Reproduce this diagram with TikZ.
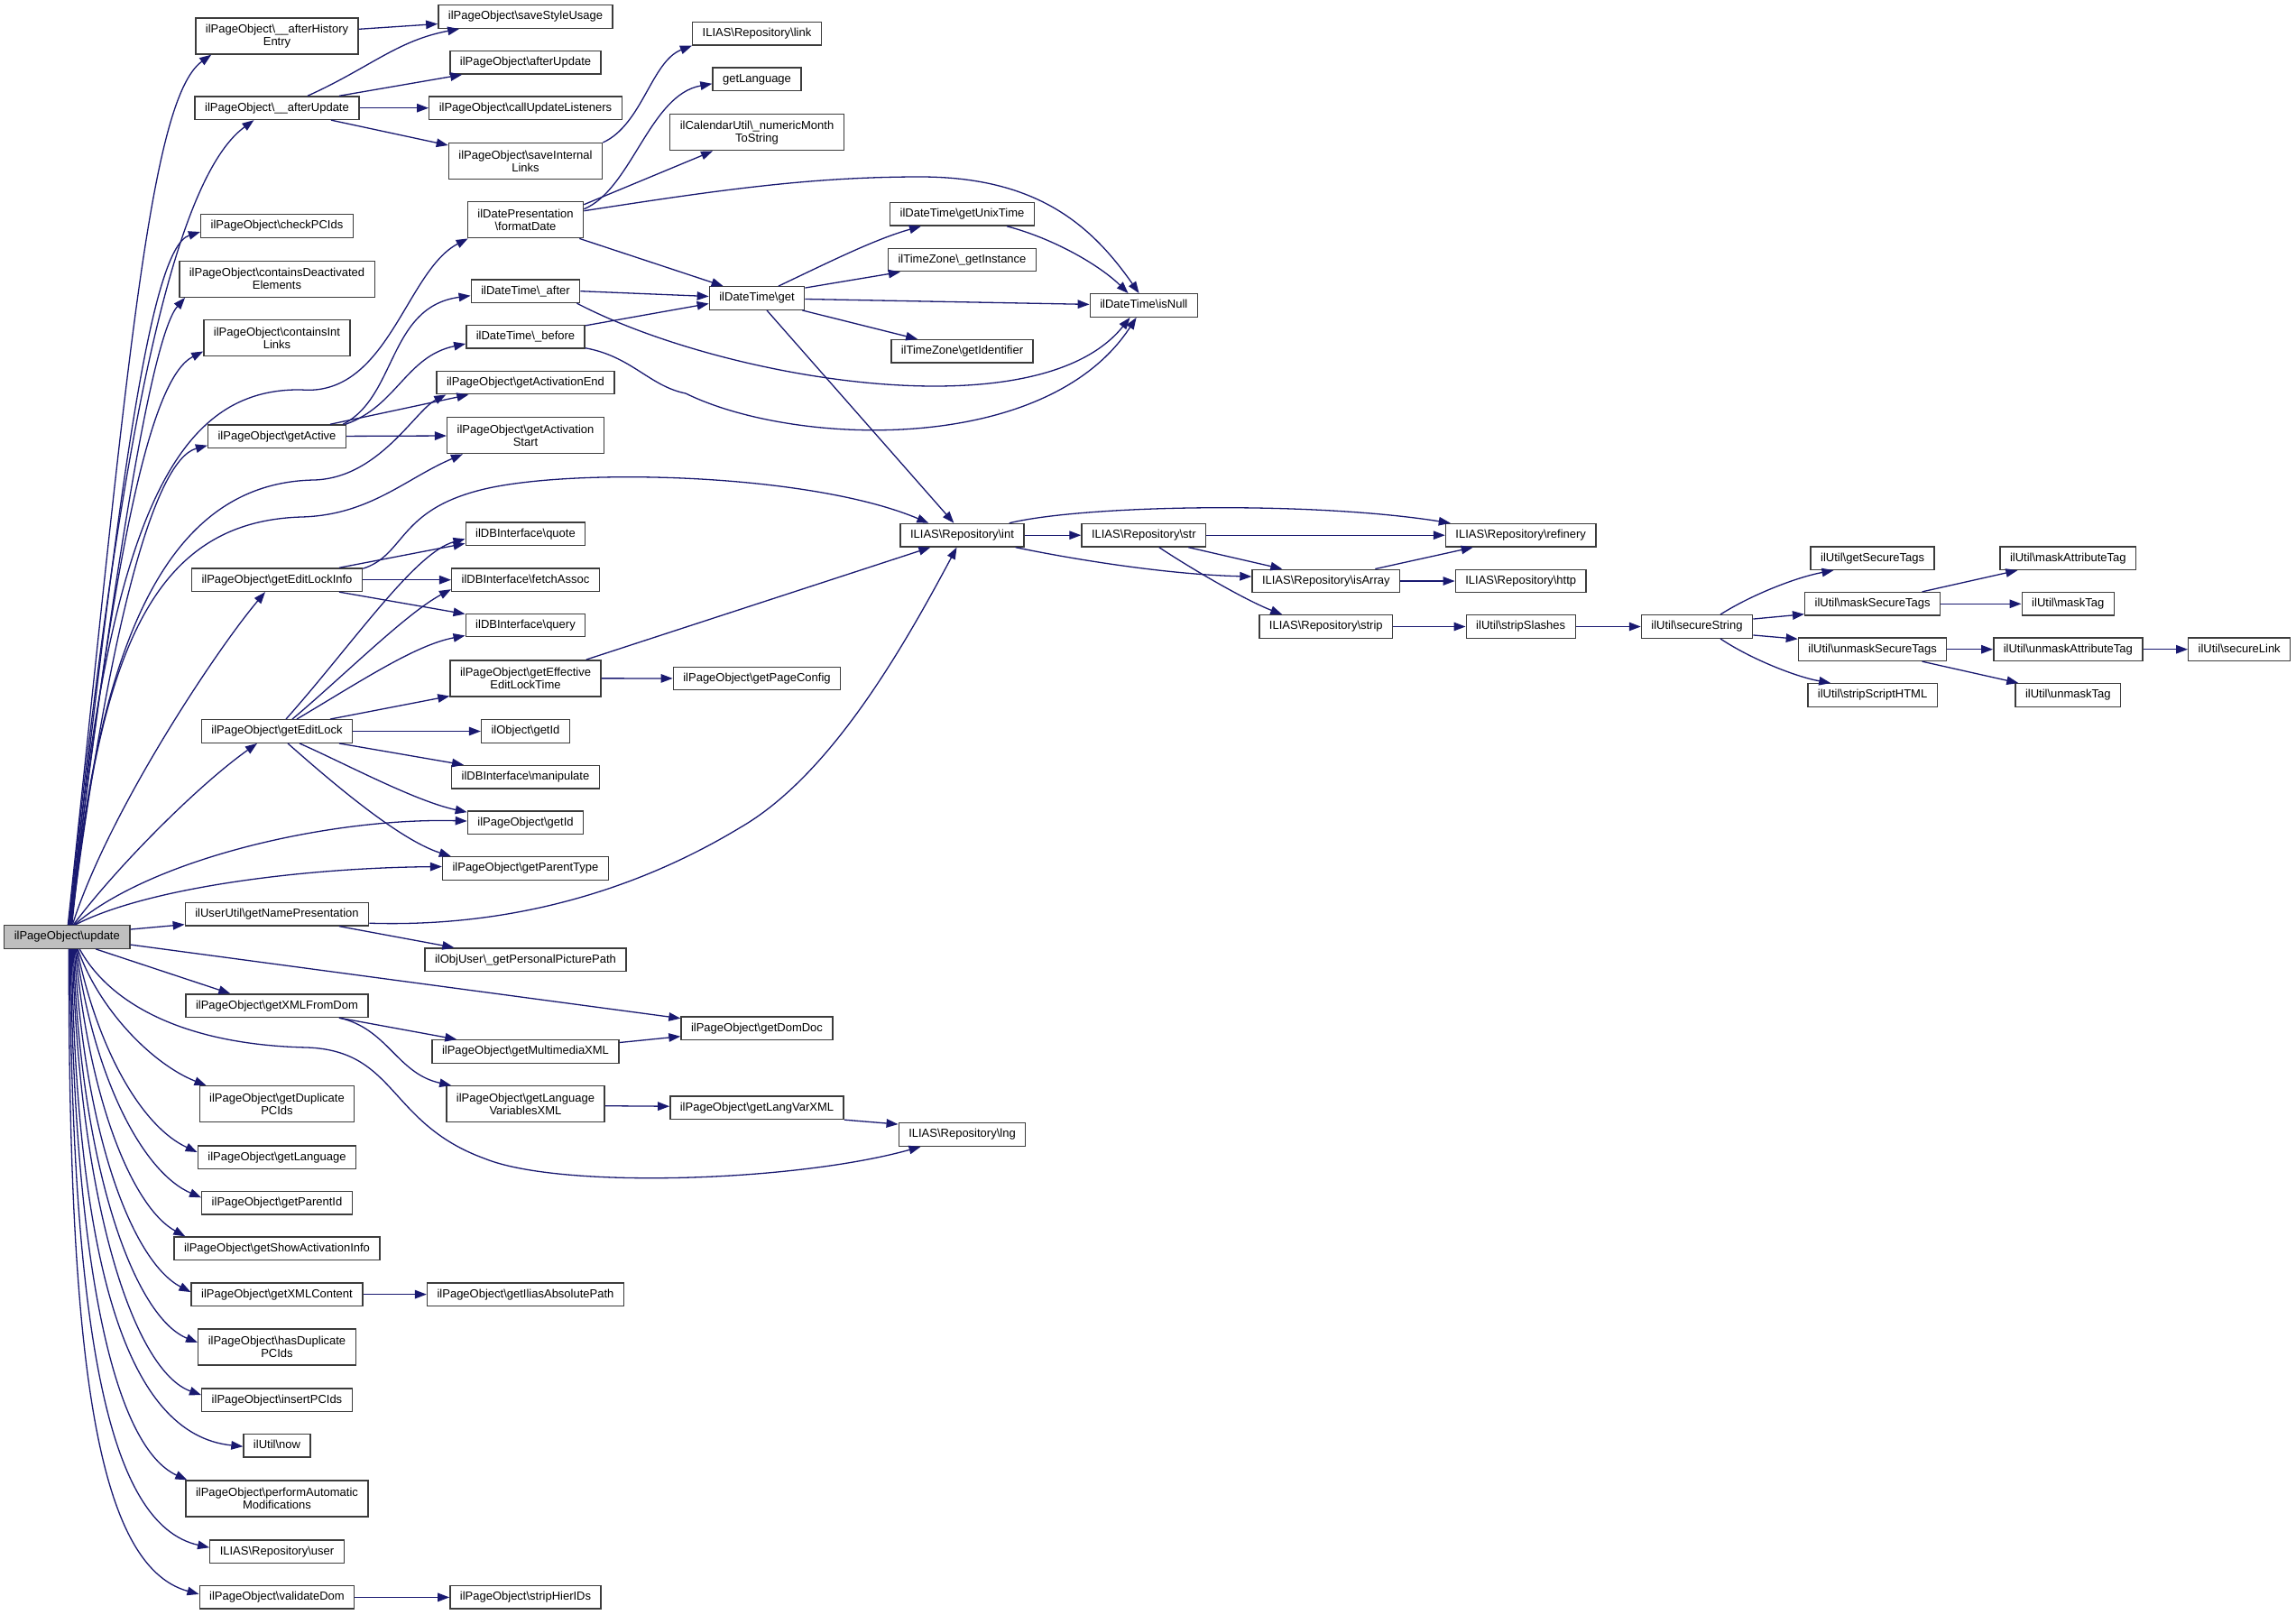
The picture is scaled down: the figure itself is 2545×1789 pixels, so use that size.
\documentclass[tikz,border=0pt]{standalone}
\usepackage{fontspec}
\setmainfont{Liberation Sans}
\usetikzlibrary{arrows.meta}
\definecolor{callblue}{RGB}{25,25,112}
\definecolor{rootgray}{RGB}{191,191,191}
\definecolor{boxline}{RGB}{60,60,60}
\newcommand{\bsl}{\textbackslash}

\begin{document}
\begin{tikzpicture}[x=1pt, y=-1pt,
  box/.style={draw=boxline, fill=white, line width=1.4pt,
    font=\fontsize{13}{14}\selectfont, inner xsep=11pt, inner ysep=0pt},
  fn/.style={box, minimum height=25.5pt, text height=9.6pt, text depth=2.8pt},
  fntwo/.style={box, align=center, minimum height=40pt},
  rootfn/.style={fn, fill=rootgray},
  call/.style={-{Triangle[length=13pt, width=9.5pt]}, draw=callblue, line width=1.3pt}
]
  \useasboundingbox (0,0) rectangle (2545,1789);

  % the function whose calls are shown
  \node[rootfn] (update) at (74.3,1038.5) {ilPageObject\bsl update};

  % direct callees
  \node[fntwo] (privHist) at (307,40) {ilPageObject\bsl\_\_afterHistory\\Entry};
  \node[fn] (privUpd) at (307,119.7) {ilPageObject\bsl\_\_afterUpdate};
  \node[fn] (checkIds) at (307,250.5) {ilPageObject\bsl checkPCIds};
  \node[fntwo] (deact) at (307,309.2) {ilPageObject\bsl containsDeactivated\\Elements};
  \node[fntwo] (cInt) at (307,374.5) {ilPageObject\bsl containsInt\\Links};
  \node[fn] (active) at (307,483.7) {ilPageObject\bsl getActive};
  \node[fn] (lockInfo) at (307,642.7) {ilPageObject\bsl getEditLockInfo};
  \node[fn] (editLock) at (307,810.5) {ilPageObject\bsl getEditLock};
  \node[fn] (namePres) at (307,1013.2) {ilUserUtil\bsl getNamePresentation};
  \node[fn] (xmlDom) at (307,1114.7) {ilPageObject\bsl getXMLFromDom};
  \node[fntwo] (dupIds) at (307,1223.7) {ilPageObject\bsl getDuplicate\\PCIds};
  \node[fn] (pageLang) at (307,1282.6) {ilPageObject\bsl getLanguage};
  \node[fn] (parentId) at (307,1333.3) {ilPageObject\bsl getParentId};
  \node[fn] (showAct) at (307,1383.8) {ilPageObject\bsl getShowActivationInfo};
  \node[fn] (xmlCont) at (307,1434.6) {ilPageObject\bsl getXMLContent};
  \node[fntwo] (hasDup) at (307,1493) {ilPageObject\bsl hasDuplicate\\PCIds};
  \node[fn] (insIds) at (307,1551.6) {ilPageObject\bsl insertPCIds};
  \node[fn] (utilNow) at (307,1602.2) {ilUtil\bsl now};
  \node[fntwo] (perform) at (307,1661) {ilPageObject\bsl performAutomatic\\Modifications};
  \node[fn] (repUser) at (307,1719.7) {ILIAS\bsl Repository\bsl user};
  \node[fn] (valDom) at (307,1770.4) {ilPageObject\bsl validateDom};

  % second level
  \node[fn] (saveStyle) at (582.5,18.5) {ilPageObject\bsl saveStyleUsage};
  \node[fn] (afterUpd) at (582.5,69.3) {ilPageObject\bsl afterUpdate};
  \node[fn] (callUpd) at (582.5,119.7) {ilPageObject\bsl callUpdateListeners};
  \node[fntwo] (saveInt) at (582.5,178.7) {ilPageObject\bsl saveInternal\\Links};
  \node[fntwo] (fmtDate) at (582.5,243.7) {ilDatePresentation\\\bsl formatDate};
  \node[fn] (dtAfter) at (582.5,322.7) {ilDateTime\bsl\_after};
  \node[fn] (dtBefore) at (582.5,373.3) {ilDateTime\bsl\_before};
  \node[fn] (actEnd) at (582.5,424) {ilPageObject\bsl getActivationEnd};
  \node[fntwo] (actStart) at (582.5,482.7) {ilPageObject\bsl getActivation\\Start};
  \node[fn] (quote) at (582.5,591.9) {ilDBInterface\bsl quote};
  \node[fn] (fetch) at (582.5,642.7) {ilDBInterface\bsl fetchAssoc};
  \node[fn] (query) at (582.5,693) {ilDBInterface\bsl query};
  \node[fntwo] (effLock) at (582.5,751.8) {ilPageObject\bsl getEffective\\EditLockTime};
  \node[fn] (objId) at (582.5,810.5) {ilObject\bsl getId};
  \node[fn] (manip) at (582.5,861.2) {ilDBInterface\bsl manipulate};
  \node[fn] (pageId) at (582.5,911.6) {ilPageObject\bsl getId};
  \node[fn] (parType) at (582.5,962.5) {ilPageObject\bsl getParentType};
  \node[fn] (picPath) at (582.5,1063.7) {ilObjUser\bsl\_getPersonalPicturePath};
  \node[fn] (mmXML) at (582.5,1165.5) {ilPageObject\bsl getMultimediaXML};
  \node[fntwo] (langVars) at (582.5,1223.7) {ilPageObject\bsl getLanguage\\VariablesXML};
  \node[fn] (absPath) at (582.5,1434.6) {ilPageObject\bsl getIliasAbsolutePath};
  \node[fn] (hier) at (582.5,1770.4) {ilPageObject\bsl stripHierIDs};

  % third level
  \node[fn] (link) at (839,37.2) {ILIAS\bsl Repository\bsl link};
  \node[fn] (getLang) at (839,87.8) {getLanguage};
  \node[fntwo] (monthStr) at (839,146.7) {ilCalendarUtil\bsl\_numericMonth\\ToString};
  \node[fn] (dtGet) at (839,330.5) {ilDateTime\bsl get};
  \node[fn] (pageConf) at (839,752) {ilPageObject\bsl getPageConfig};
  \node[fn] (domDoc) at (839,1139.7) {ilPageObject\bsl getDomDoc};
  \node[fn] (langVar) at (839,1227.7) {ilPageObject\bsl getLangVarXML};

  \node[fn] (unixTime) at (1066.5,237.3) {ilDateTime\bsl getUnixTime};
  \node[fn] (tzInst) at (1066.5,288) {ilTimeZone\bsl\_getInstance};
  \node[fn] (tzIdent) at (1066.5,389.3) {ilTimeZone\bsl getIdentifier};
  \node[fn] (repInt) at (1066.5,593.2) {ILIAS\bsl Repository\bsl int};
  \node[fn] (repLng) at (1066.5,1257.5) {ILIAS\bsl Repository\bsl lng};

  \node[fn] (isNull) at (1267.8,338.5) {ilDateTime\bsl isNull};
  \node[fn] (repStr) at (1267.8,593.2) {ILIAS\bsl Repository\bsl str};

  % string helpers
  \node[fn] (isArray) at (1469.8,644) {ILIAS\bsl Repository\bsl isArray};
  \node[fn] (repStrip) at (1469.8,694.5) {ILIAS\bsl Repository\bsl strip};
  \node[fn] (refinery) at (1685.7,593.2) {ILIAS\bsl Repository\bsl refinery};
  \node[fn] (http) at (1685.7,644) {ILIAS\bsl Repository\bsl http};
  \node[fn] (slashes) at (1685.7,694.5) {ilUtil\bsl stripSlashes};
  \node[fn] (secStr) at (1881,694.5) {ilUtil\bsl secureString};
  \node[fn] (secTags) at (2075.6,618.7) {ilUtil\bsl getSecureTags};
  \node[fn] (maskSec) at (2075.6,669.3) {ilUtil\bsl maskSecureTags};
  \node[fn] (unmaskSec) at (2075.6,719.7) {ilUtil\bsl unmaskSecureTags};
  \node[fn] (stripHTML) at (2075.6,770.5) {ilUtil\bsl stripScriptHTML};
  \node[fn] (maskAttr) at (2292.3,618.7) {ilUtil\bsl maskAttributeTag};
  \node[fn] (maskTag) at (2292.3,669.3) {ilUtil\bsl maskTag};
  \node[fn] (unmaskAttr) at (2292.3,719.7) {ilUtil\bsl unmaskAttributeTag};
  \node[fn] (unmaskTag) at (2292.3,770.5) {ilUtil\bsl unmaskTag};
  \node[fn] (secLink) at (2482.2,719.7) {ilUtil\bsl secureLink};

  % calls leaving the top of update
  \draw[call] ([xshift=1pt]update.north) .. controls (140,420) and (165,110) .. ([xshift=18pt]privHist.south west);
  \draw[call] ([xshift=2pt]update.north) .. controls (130,500) and (190,200) .. ([xshift=66pt]privUpd.south west);
  \draw[call] ([xshift=2.5pt]update.north) .. controls (130,560) and (165,275) .. ([yshift=-6.5pt]checkIds.west);
  \draw[call] ([xshift=3pt]update.north) .. controls (130,600) and (170,370) .. ([xshift=7pt]deact.south west);
  \draw[call] ([xshift=3.5pt]update.north) .. controls (125,620) and (165,420) .. ([yshift=-15pt]cInt.west);
  \draw[call] ([xshift=4pt]update.north) .. controls (120,560) and (200,430) .. (334,432)
    .. controls (430,440) and (450,300) .. ([xshift=1pt]fmtDate.south west);
  \draw[call] ([xshift=4.5pt]update.north) .. controls (120,700) and (170,510) .. ([yshift=-10pt]active.west);
  \draw[call] ([xshift=5pt]update.north) .. controls (110,700) and (190,535) .. (348,532)
    .. controls (420,530) and (460,455) .. ([xshift=11pt]actEnd.south west);
  \draw[call] ([xshift=5.5pt]update.north) .. controls (110,720) and (170,578) .. (334,573)
    .. controls (410,571) and (450,530) .. ([xshift=18pt]actStart.south west);
  \draw[call] ([xshift=6pt]update.north) .. controls (120,900) and (240,720) .. ([xshift=-13pt]lockInfo.south);
  \draw[call] ([xshift=7pt]update.north) .. controls (130,960) and (220,870) .. ([xshift=-22pt]editLock.south);
  \draw[call] ([xshift=8pt]update.north) .. controls (170,950) and (370,906) .. ([yshift=1.6pt]pageId.west);
  \draw[call] ([xshift=9pt]update.north) .. controls (160,985) and (330,962) .. ([yshift=2pt]parType.west);
  \draw[call] ([yshift=-5pt]update.north east) -- ([yshift=2pt]namePres.south west);
  \draw[call] ([yshift=-22pt]update.north east) -- ([yshift=11pt]domDoc.west);

  % calls leaving the bottom of update
  \draw[call] ([xshift=32pt]update.south) -- ([xshift=50pt]xmlDom.north west);
  \draw[call] ([xshift=14pt]update.south) .. controls (120,1110) and (200,1158) .. (341,1161)
    .. controls (440,1165) and (430,1245) .. (537,1284)
    .. controls (620,1318) and (880,1310) .. ([xshift=25pt]repLng.south west);
  \draw[call] ([xshift=12pt]update.south) .. controls (110,1120) and (170,1180) .. ([xshift=8pt]dupIds.north west);
  \draw[call] ([xshift=11pt]update.south) .. controls (110,1170) and (160,1250) .. ([yshift=5.6pt]pageLang.west);
  \draw[call] ([xshift=10pt]update.south) .. controls (105,1200) and (160,1300) .. ([yshift=6pt]parentId.west);
  \draw[call] ([xshift=9pt]update.south) .. controls (100,1230) and (150,1340) .. ([xshift=13pt]showAct.north west);
  \draw[call] ([xshift=8pt]update.south) .. controls (95,1270) and (150,1400) .. ([yshift=2.5pt]xmlCont.west);
  \draw[call] ([xshift=7pt]update.south) .. controls (90,1300) and (150,1460) .. ([yshift=5pt]hasDup.west);
  \draw[call] ([xshift=6pt]update.south) .. controls (88,1340) and (150,1520) .. ([yshift=5.5pt]insIds.west);
  \draw[call] ([xshift=5pt]update.south) .. controls (85,1400) and (140,1590) .. ([yshift=-1pt]utilNow.west);
  \draw[call] ([xshift=4pt]update.south) .. controls (82,1420) and (130,1605) .. ([xshift=2pt]perform.north west);
  \draw[call] ([xshift=3pt]update.south) .. controls (80,1480) and (120,1690) .. ([yshift=4.5pt]repUser.west);
  \draw[call] ([xshift=2pt]update.south) .. controls (76,1500) and (105,1735) .. ([yshift=3.5pt]valDom.west);

  % afterHistoryEntry / afterUpdate
  \draw[call] ([yshift=7.7pt]privHist.east) -- ([yshift=-8pt]saveStyle.west);
  \draw[call] ([xshift=34pt]privUpd.north) .. controls (410,75) and (440,45) .. ([xshift=24pt]saveStyle.south west);
  \draw[call] ([xshift=69pt]privUpd.north) -- ([xshift=14pt]afterUpd.south west);
  \draw[call] (privUpd) -- (callUpd);
  \draw[call] ([xshift=60pt]privUpd.south) -- ([yshift=-3pt]saveInt.north west);
  \draw[call] (saveInt.north east) .. controls (712,138) and (722,68) .. (link.south west);

  % formatDate and the date helpers
  \draw[call] ([yshift=12pt]fmtDate.east) .. controls (700,210) and (720,105) .. ([yshift=-5pt]getLang.west);
  \draw[call] ([yshift=17pt]fmtDate.east) -- ([xshift=48pt]monthStr.south west);
  \draw[call] ([yshift=10pt]fmtDate.east) .. controls (800,210) and (900,196) .. (1020,196)
    .. controls (1150,196) and (1210,250) .. ([xshift=55pt]isNull.north west);
  \draw[call] ([xshift=-5pt]fmtDate.south east) -- ([xshift=16pt]dtGet.north west);
  \draw[call] (dtAfter.east) -- ([yshift=2pt]dtGet.west);
  \draw[call] ([xshift=-4pt]dtAfter.south east) .. controls (800,420) and (1150,480) .. ([xshift=45pt]isNull.south west);
  \draw[call] ([yshift=-1pt]dtBefore.north east) -- ([yshift=-6pt]dtGet.west);
  \draw[call] ([yshift=1pt]dtBefore.south east) .. controls (700,395) and (720,428) .. (760,436)
    .. controls (880,495) and (1160,505) .. ([xshift=52pt]isNull.south west);
  \draw[call] ([xshift=-4pt]active.north east) .. controls (440,440) and (430,340) .. ([yshift=-5pt]dtAfter.west);
  \draw[call] ([xshift=-1pt]active.north east) .. controls (440,450) and (450,395) .. ([yshift=-7.7pt]dtBefore.west);
  \draw[call] ([xshift=59pt]active.north) -- ([xshift=36pt]actEnd.south west);
  \draw[call] (active) -- (actStart);

  \draw[call] ([xshift=24pt]dtGet.north) .. controls (920,290) and (970,265) .. ([xshift=35pt]unixTime.south west);
  \draw[call] ([yshift=-2pt]dtGet.north east) -- ([xshift=14pt]tzInst.south west);
  \draw[call] (dtGet) -- (isNull);
  \draw[call] ([xshift=-3pt]dtGet.south east) -- ([xshift=30pt]tzIdent.north west);
  \draw[call] ([xshift=11pt]dtGet.south) -- ([xshift=60pt]repInt.north west);
  \draw[call] ([xshift=-31pt]unixTime.south east) .. controls (1170,265) and (1220,295) .. ([xshift=43pt]isNull.north west);

  % edit lock
  \draw[call] ([yshift=-1pt]lockInfo.north east) .. controls (450,615) and (440,565) .. (537,542)
    .. controls (640,518) and (900,525) .. ([xshift=32pt]repInt.north west);
  \draw[call] ([xshift=69pt]lockInfo.north) -- ([yshift=3pt]quote.south west);
  \draw[call] (lockInfo) -- (fetch);
  \draw[call] ([xshift=69pt]lockInfo.south) -- ([yshift=-1pt]query.north west);
  \draw[call] ([xshift=10pt]editLock.north) .. controls (390,715) and (460,612) .. ([yshift=8pt]quote.south west);
  \draw[call] ([xshift=17pt]editLock.north) .. controls (380,750) and (450,680) .. ([yshift=3pt]fetch.south west);
  \draw[call] ([xshift=22pt]editLock.north) .. controls (400,755) and (460,715) .. ([yshift=2pt]query.south west);
  \draw[call] ([xshift=59pt]editLock.north) -- ([yshift=1pt]effLock.south west);
  \draw[call] (editLock) -- (objId);
  \draw[call] ([xshift=69pt]editLock.south) -- ([xshift=14pt]manip.north west);
  \draw[call] ([xshift=25pt]editLock.south) .. controls (380,845) and (460,888) .. ([yshift=-2pt]pageId.north west);
  \draw[call] ([xshift=12pt]editLock.south) .. controls (360,860) and (440,930) .. ([xshift=10pt]parType.north west);
  \draw[call] ([xshift=-17pt]effLock.north east) -- ([xshift=34pt]repInt.south west);
  \draw[call] (effLock) -- (pageConf);

  % user name, XML
  \draw[call] ([yshift=-10pt]namePres.east) .. controls (560,1028) and (700,990) .. (820,917.5)
    .. controls (920,860) and (1000,720) .. ([xshift=-6pt]repInt.south);
  \draw[call] ([xshift=69pt]namePres.south) -- ([xshift=33pt]picPath.north west);
  \draw[call] ([xshift=69pt]xmlDom.south) -- ([xshift=28pt]mmXML.north west);
  \draw[call] ([xshift=69pt]xmlDom.south) .. controls (430,1140) and (440,1190) .. ([xshift=6pt]langVars.north west);
  \draw[call] ([yshift=10pt]mmXML.east) -- ([yshift=-9pt]domDoc.west);
  \draw[call] ([yshift=-2pt]langVars.east) -- ([yshift=1.5pt]langVar.west);
  \draw[call] (langVar.south east) -- ([yshift=-2pt]repLng.north west);
  \draw[call] (xmlCont) -- (absPath);
  \draw[call] (valDom) -- (hier);

  % repository and string helpers
  \draw[call] (repInt) -- (repStr);
  \draw[call] ([xshift=-17pt]repInt.north east) .. controls (1200,560) and (1450,555) .. ([xshift=6pt]refinery.north west);
  \draw[call] ([xshift=-10pt]repInt.south east) .. controls (1200,622) and (1300,637) .. ([yshift=5pt]isArray.west);
  \draw[call] (repStr) -- (refinery);
  \draw[call] ([xshift=-20pt]repStr.south east) -- ([xshift=34pt]isArray.north west);
  \draw[call] ([xshift=17pt]repStr.south) .. controls (1320,630) and (1380,665) .. ([xshift=26pt]repStrip.north west);
  \draw[call] ([xshift=-28pt]isArray.north east) -- ([xshift=31pt]refinery.south west);
  \draw[call] (isArray) -- (http);
  \draw[call] (repStrip) -- (slashes);
  \draw[call] (slashes) -- (secStr);
  \draw[call] ([xshift=26pt]secStr.north) .. controls (1940,660) and (1990,640) .. ([xshift=26pt]secTags.south west);
  \draw[call] ([yshift=-5pt]secStr.north east) -- ([yshift=2pt]maskSec.south west);
  \draw[call] ([yshift=4pt]secStr.south east) -- ([yshift=-2pt]unmaskSec.north west);
  \draw[call] ([xshift=26pt]secStr.south) .. controls (1940,730) and (1990,750) .. ([xshift=26pt]stripHTML.north west);
  \draw[call] ([xshift=55pt]maskSec.north) -- ([xshift=20pt]maskAttr.south west);
  \draw[call] (maskSec) -- (maskTag);
  \draw[call] (unmaskSec) -- (unmaskAttr);
  \draw[call] ([xshift=55pt]unmaskSec.south) -- ([xshift=4pt]unmaskTag.north west);
  \draw[call] (unmaskAttr) -- (secLink);
\end{tikzpicture}
\end{document}
